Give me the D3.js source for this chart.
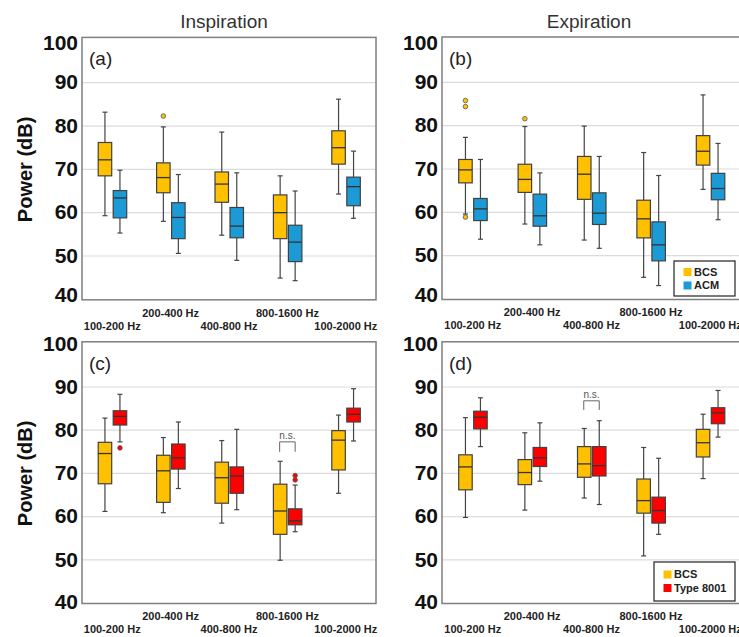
<!DOCTYPE html>
<html>
<head>
<meta charset="utf-8">
<script src="https://cdn.jsdelivr.net/npm/d3@7"></script>
<style>
  body { margin: 0; background: #fff; }
  svg { display: block; font-family: "Liberation Sans", Arial, sans-serif; }
</style>
</head>
<body>
<svg id="chart" width="739" height="637"></svg>
<script>
// frequency bands (x categories)
let bands = ["100-200 Hz", "200-400 Hz", "400-800 Hz", "800-1600 Hz", "100-2000 Hz"];
let yTicks = [40, 50, 60, 70, 80, 90, 100];
let gridTicks = [50, 60, 70, 80, 90];

// box stats per band: [whisker low, Q1, median, Q3, whisker high]
let inspBCS = [[59.3, 68.5, 72.2, 76.2, 83.2], [58.0, 64.6, 68.1, 71.5, 79.8], [54.8, 62.4, 66.6, 69.4, 78.6], [44.9, 54.0, 60.0, 64.1, 68.5], [64.3, 71.2, 75.0, 78.9, 86.2]];
let inspACM = [[55.3, 58.8, 63.4, 65.1, 69.8], [50.6, 54.0, 58.9, 62.3, 68.8], [49.0, 54.2, 56.9, 61.2, 69.2], [44.3, 48.7, 53.2, 57.1, 65.0], [58.7, 61.6, 66.0, 68.2, 74.2]];
let expBCS = [[59.6, 66.8, 69.8, 72.2, 77.3], [57.3, 64.6, 67.6, 71.1, 79.8], [53.6, 63.0, 68.8, 72.9, 79.9], [45.0, 54.1, 58.5, 62.8, 73.8], [65.3, 70.9, 74.1, 77.7, 87.1]];
let expACM = [[53.8, 58.1, 60.8, 63.2, 72.2], [52.5, 56.8, 59.2, 64.2, 69.1], [51.7, 57.2, 59.8, 64.5, 72.9], [43.1, 48.8, 52.5, 57.8, 68.5], [58.3, 62.9, 65.5, 69.0, 75.9]];
let inspBCS2 = [[61.2, 67.6, 74.6, 77.2, 82.8], [60.9, 63.3, 70.6, 74.2, 78.3], [58.5, 63.1, 69.0, 72.6, 77.6], [49.9, 55.9, 61.3, 67.5, 72.8], [65.4, 70.8, 77.7, 79.9, 83.5]];
let inspType8001 = [[77.3, 81.2, 83.2, 84.5, 88.3], [66.5, 71.0, 73.6, 76.8, 81.9], [61.6, 65.4, 69.4, 71.5, 80.2], [56.5, 58.1, 59.0, 61.8, 67.3], [77.5, 81.9, 83.7, 85.1, 89.6]];
let expBCS2 = [[59.8, 66.2, 71.5, 74.3, 82.9], [61.5, 67.4, 70.2, 73.2, 79.4], [64.3, 69.1, 72.2, 76.2, 80.4], [50.9, 60.8, 63.7, 68.7, 76.0], [68.8, 73.8, 77.1, 80.2, 83.7]];
let expType8001 = [[76.2, 80.3, 83.0, 84.4, 87.5], [68.2, 71.6, 73.6, 76.0, 81.7], [62.8, 69.4, 71.8, 76.2, 82.2], [55.9, 58.5, 61.4, 64.5, 73.5], [78.4, 81.5, 84.0, 85.2, 89.2]];

// outliers: [band index, series index, value]
let inspOutliers = [[1, 0, 82.3]];
let expOutliers = [[0, 0, 85.8], [0, 0, 84.4], [0, 0, 58.9], [1, 0, 81.6]];
let inspOutliers2 = [[0, 1, 75.9], [3, 1, 69.5], [3, 1, 68.5]];
let expOutliers2 = [];

// "n.s." brackets: [band index, top, leg bottom]
let inspNs2 = [[3, 77.3, 75.0]];
let expNs2 = [[2, 86.8, 84.7]];

let colorBCS = "#FFC000", colorACM = "#1C9AD6", colorType = "#FF0000";

let svg = d3.select("#chart");
svg.append("rect").attr("width", 739).attr("height", 637).attr("fill", "#fff");

function drawPanel(p) {
    let g = svg.append("g");
    let y = d3.scaleLinear().domain([40, 100]).range([p.bottom, p.top]);
    let x = d3.scaleBand().domain(bands).range([p.left + 1, p.right]);
    let bw = x.bandwidth();

    // grid
    g.selectAll(".grid").data(gridTicks).join("line")
        .attr("x1", p.left).attr("x2", p.frameRight)
        .attr("y1", d => y(d)).attr("y2", d => y(d))
        .attr("stroke", "#dcdcdc").attr("stroke-width", 1.2);

    // frame
    g.append("rect")
        .attr("x", p.left).attr("y", y(100) - 2)
        .attr("width", p.frameRight - p.left).attr("height", y(40) - y(100) + 2.5)
        .attr("fill", "none").attr("stroke", "#7f7f7f").attr("stroke-width", 1.5);

    // y axis (end labels sit a little inside the frame on the top row)
    let yAxis = g.append("g")
        .attr("transform", "translate(" + p.left + ",0)")
        .call(d3.axisLeft(y).tickValues(yTicks).tickSize(0).tickPadding(4));
    yAxis.select(".domain").remove();
    yAxis.selectAll(".tick")
        .attr("transform", d => "translate(0," + (y(d) + (d == 100 ? p.endNudge : d == 40 ? -p.endNudge : 0)) + ")");
    yAxis.selectAll("text")
        .attr("font-size", 21).attr("font-weight", "bold")
        .attr("font-family", "'Liberation Sans', Arial, sans-serif")
        .attr("fill", "#111");

    // x axis, labels staggered in two rows
    let xAxis = g.append("g")
        .attr("transform", "translate(0," + y(40) + ")")
        .call(d3.axisBottom(x).tickSize(0));
    xAxis.select(".domain").remove();
    xAxis.selectAll("text")
        .attr("y", (d, i) => i % 2 == 1 ? 13.5 : 26.5)
        .attr("dy", "0.35em")
        .attr("font-size", 11).attr("font-weight", "bold")
        .attr("font-family", "'Liberation Sans', Arial, sans-serif")
        .attr("fill", "#222");

    // boxes
    let boxW = 13.5;
    p.series.forEach((s, si) => {
        let offset = si == 0 ? -boxW - 0.5 : 1;
        s.stats.forEach((st, bi) => {
            let x0 = x(bands[bi]) + bw / 2 + offset;
            let cx = x0 + boxW / 2;
            let box = g.append("g");
            // whiskers
            box.append("line").attr("x1", cx).attr("x2", cx)
                .attr("y1", y(st[0])).attr("y2", y(st[1]))
                .attr("stroke", "#444").attr("stroke-width", 1.2);
            box.append("line").attr("x1", cx).attr("x2", cx)
                .attr("y1", y(st[3])).attr("y2", y(st[4]))
                .attr("stroke", "#444").attr("stroke-width", 1.2);
            [st[0], st[4]].forEach(v => {
                box.append("line").attr("x1", cx - 2.5).attr("x2", cx + 2.5)
                    .attr("y1", y(v)).attr("y2", y(v))
                    .attr("stroke", "#444").attr("stroke-width", 1.2);
            });
            box.append("rect")
                .attr("x", x0).attr("y", y(st[3]))
                .attr("width", boxW).attr("height", y(st[1]) - y(st[3]))
                .attr("fill", s.color).attr("stroke", "#404040").attr("stroke-width", 1.2);
            box.append("line").attr("x1", x0).attr("x2", x0 + boxW)
                .attr("y1", y(st[2])).attr("y2", y(st[2]))
                .attr("stroke", "#333").attr("stroke-width", 1.3);
        });
    });

    // outliers
    p.outliers.forEach(o => {
        let offset = o[1] == 0 ? -boxW / 2 - 0.5 : 1 + boxW / 2;
        g.append("circle")
            .attr("cx", x(bands[o[0]]) + bw / 2 + offset)
            .attr("cy", y(o[2])).attr("r", 2.3)
            .attr("fill", p.series[o[1]].color).attr("stroke", "#555").attr("stroke-width", 0.8);
    });

    // n.s. brackets
    p.ns.forEach(n => {
        let c = x(bands[n[0]]) + bw / 2;
        let x1 = c - boxW / 2 - 1, x2 = c + boxW / 2 + 1;
        g.append("path")
            .attr("d", "M" + x1 + "," + y(n[2]) + "V" + y(n[1]) + "H" + x2 + "V" + y(n[2]))
            .attr("fill", "none").attr("stroke", "#666").attr("stroke-width", 1);
        g.append("text").attr("x", c).attr("y", y(n[1]) - 3)
            .attr("text-anchor", "middle").attr("font-size", 10)
            .attr("fill", "#555").text("n.s.");
    });

    // panel letter
    g.append("text").attr("x", p.left + 7).attr("y", y(100) + 26)
        .attr("font-size", 19).attr("fill", "#222").text(p.letter);

    // y title
    if (p.yTitle) {
        g.append("text")
            .attr("transform", "translate(32," + ((y(40) + y(100)) / 2) + ") rotate(-90)")
            .attr("text-anchor", "middle").attr("font-size", 20).attr("font-weight", "bold")
            .attr("fill", "#111").text("Power (dB)");
    }

    // legend
    if (p.legend) {
        let L = p.legend;
        g.append("rect").attr("x", L.x).attr("y", L.y).attr("width", L.w).attr("height", L.h)
            .attr("fill", "#fff").attr("stroke", "#222").attr("stroke-width", 1.2);
        p.series.forEach((s, i) => {
            let ry = L.y + L.pad + i * L.step;
            g.append("rect").attr("x", L.x + 9.5).attr("y", ry).attr("width", 8).attr("height", 8)
                .attr("fill", s.color);
            g.append("text").attr("x", L.x + 20).attr("y", ry + 4).attr("dy", "0.35em")
                .attr("font-size", 11).attr("font-weight", "bold").attr("fill", "#222")
                .text(s.name);
        });
    }
}

// column titles
svg.append("text").attr("x", 224).attr("y", 28).attr("text-anchor", "middle")
    .attr("font-size", 19).attr("fill", "#333").text("Inspiration");
svg.append("text").attr("x", 589).attr("y", 28).attr("text-anchor", "middle")
    .attr("font-size", 19).attr("fill", "#333").text("Expiration");

drawPanel({
    letter: "(a)", left: 82, right: 375, frameRight: 376, top: 39.4, bottom: 299.3, yTitle: true, endNudge: 4,
    series: [{ name: "BCS", color: colorBCS, stats: inspBCS }, { name: "ACM", color: colorACM, stats: inspACM }],
    outliers: inspOutliers, ns: []
});
drawPanel({
    letter: "(b)", left: 442, right: 740, frameRight: 745, top: 39.0, bottom: 299.0, yTitle: false, endNudge: 4,
    series: [{ name: "BCS", color: colorBCS, stats: expBCS }, { name: "ACM", color: colorACM, stats: expACM }],
    outliers: expOutliers, ns: [],
    legend: { x: 674, y: 261, w: 61, h: 35, pad: 7, step: 13.5 }
});
drawPanel({
    letter: "(c)", left: 82, right: 375, frameRight: 376, top: 343.8, bottom: 603, yTitle: true, endNudge: 0.5,
    series: [{ name: "BCS", color: colorBCS, stats: inspBCS2 }, { name: "Type 8001", color: colorType, stats: inspType8001 }],
    outliers: inspOutliers2, ns: inspNs2
});
drawPanel({
    letter: "(d)", left: 442, right: 740, frameRight: 745, top: 343.8, bottom: 603, yTitle: false, endNudge: 0.5,
    series: [{ name: "BCS", color: colorBCS, stats: expBCS2 }, { name: "Type 8001", color: colorType, stats: expType8001 }],
    outliers: expOutliers2, ns: expNs2,
    legend: { x: 654, y: 562, w: 81, h: 39, pad: 8.5, step: 13.5 }
});
</script>
</body>
</html>
